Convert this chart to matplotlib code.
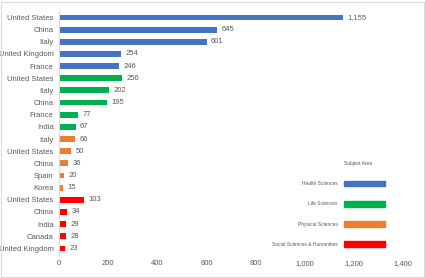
import matplotlib.pyplot as plt
from matplotlib.patches import Patch, Rectangle
from matplotlib import font_manager

# datos
paises = ["United States", "China", "Italy", "United Kingdom", "France",
          "United States", "Italy", "China", "France", "India",
          "Italy", "United States", "China", "Spain", "Korea",
          "United States", "China", "India", "Canada", "United Kingdom"]
valores = [1155, 645, 601, 254, 246,
           256, 202, 195, 77, 67,
           66, 50, 36, 20, 15,
           103, 34, 29, 28, 23]
areas = ["Health Sciences"] * 5 + ["Life Sciences"] * 5 + \
        ["Physical Sciences"] * 5 + ["Social Sciences & Humanities"] * 5
colores_area = {"Health Sciences": "#4472C4", "Life Sciences": "#00B050",
                "Physical Sciences": "#ED7D31",
                "Social Sciences & Humanities": "#FF0000"}
xticks = [0, 200, 400, 600, 800, 1000, 1200, 1400]

nombres = [f.name for f in font_manager.fontManager.ttflist]
fuente = "Liberation Sans Narrow" if "Liberation Sans Narrow" in nombres else "Liberation Sans"
plt.rcParams['font.family'] = [fuente, 'DejaVu Sans']

gris = "#595959"
fig = plt.figure(figsize=(4.25, 2.78), dpi=100)
ax = fig.add_axes([0.139, 0.0845, 0.809, 0.8745])

pos = list(range(len(paises)))
ax.barh(pos, valores, height=0.48, color=[colores_area[a] for a in areas])
for y, v in zip(pos, valores):
    ax.text(v + 18, y, f"{v:,}", va="center", ha="left", fontsize=5.5, color=gris)

ax.set_ylim(len(paises) - 0.5, -0.5)
ax.set_xlim(0, 1400)
ax.set_yticks(pos)
ax.set_yticklabels(paises, fontsize=5.5, color=gris)
ax.set_xticks(xticks)
ax.set_xticklabels([f"{t:,}" for t in xticks], fontsize=5.5, color=gris)
ax.tick_params(length=0, pad=4)
for s in ["top", "right", "bottom"]:
    ax.spines[s].set_visible(False)
ax.spines["left"].set_color("#d9d9d9")
ax.spines["left"].set_linewidth(0.8)

handles = [Patch(color=c, label=k) for k, c in colores_area.items()]
leg = ax.legend(handles=handles, title="Subject Area          ", markerfirst=False,
                loc="lower right", bbox_to_anchor=(0.955, 0.022),
                borderaxespad=0, frameon=False, fontsize=3.5, title_fontsize=3.5,
                handlelength=8.6, handleheight=1.45, labelspacing=2.98,
                handletextpad=1.2)
leg._legend_box.align = "right"
for t in leg.get_texts():
    t.set_color(gris)
leg.get_title().set_color(gris)

fig.patches.append(Rectangle((0.003, 0.004), 0.994, 0.99, transform=fig.transFigure,
                             fill=False, edgecolor="#d9d9d9", linewidth=0.8))

plt.savefig("out.png", dpi=100)
